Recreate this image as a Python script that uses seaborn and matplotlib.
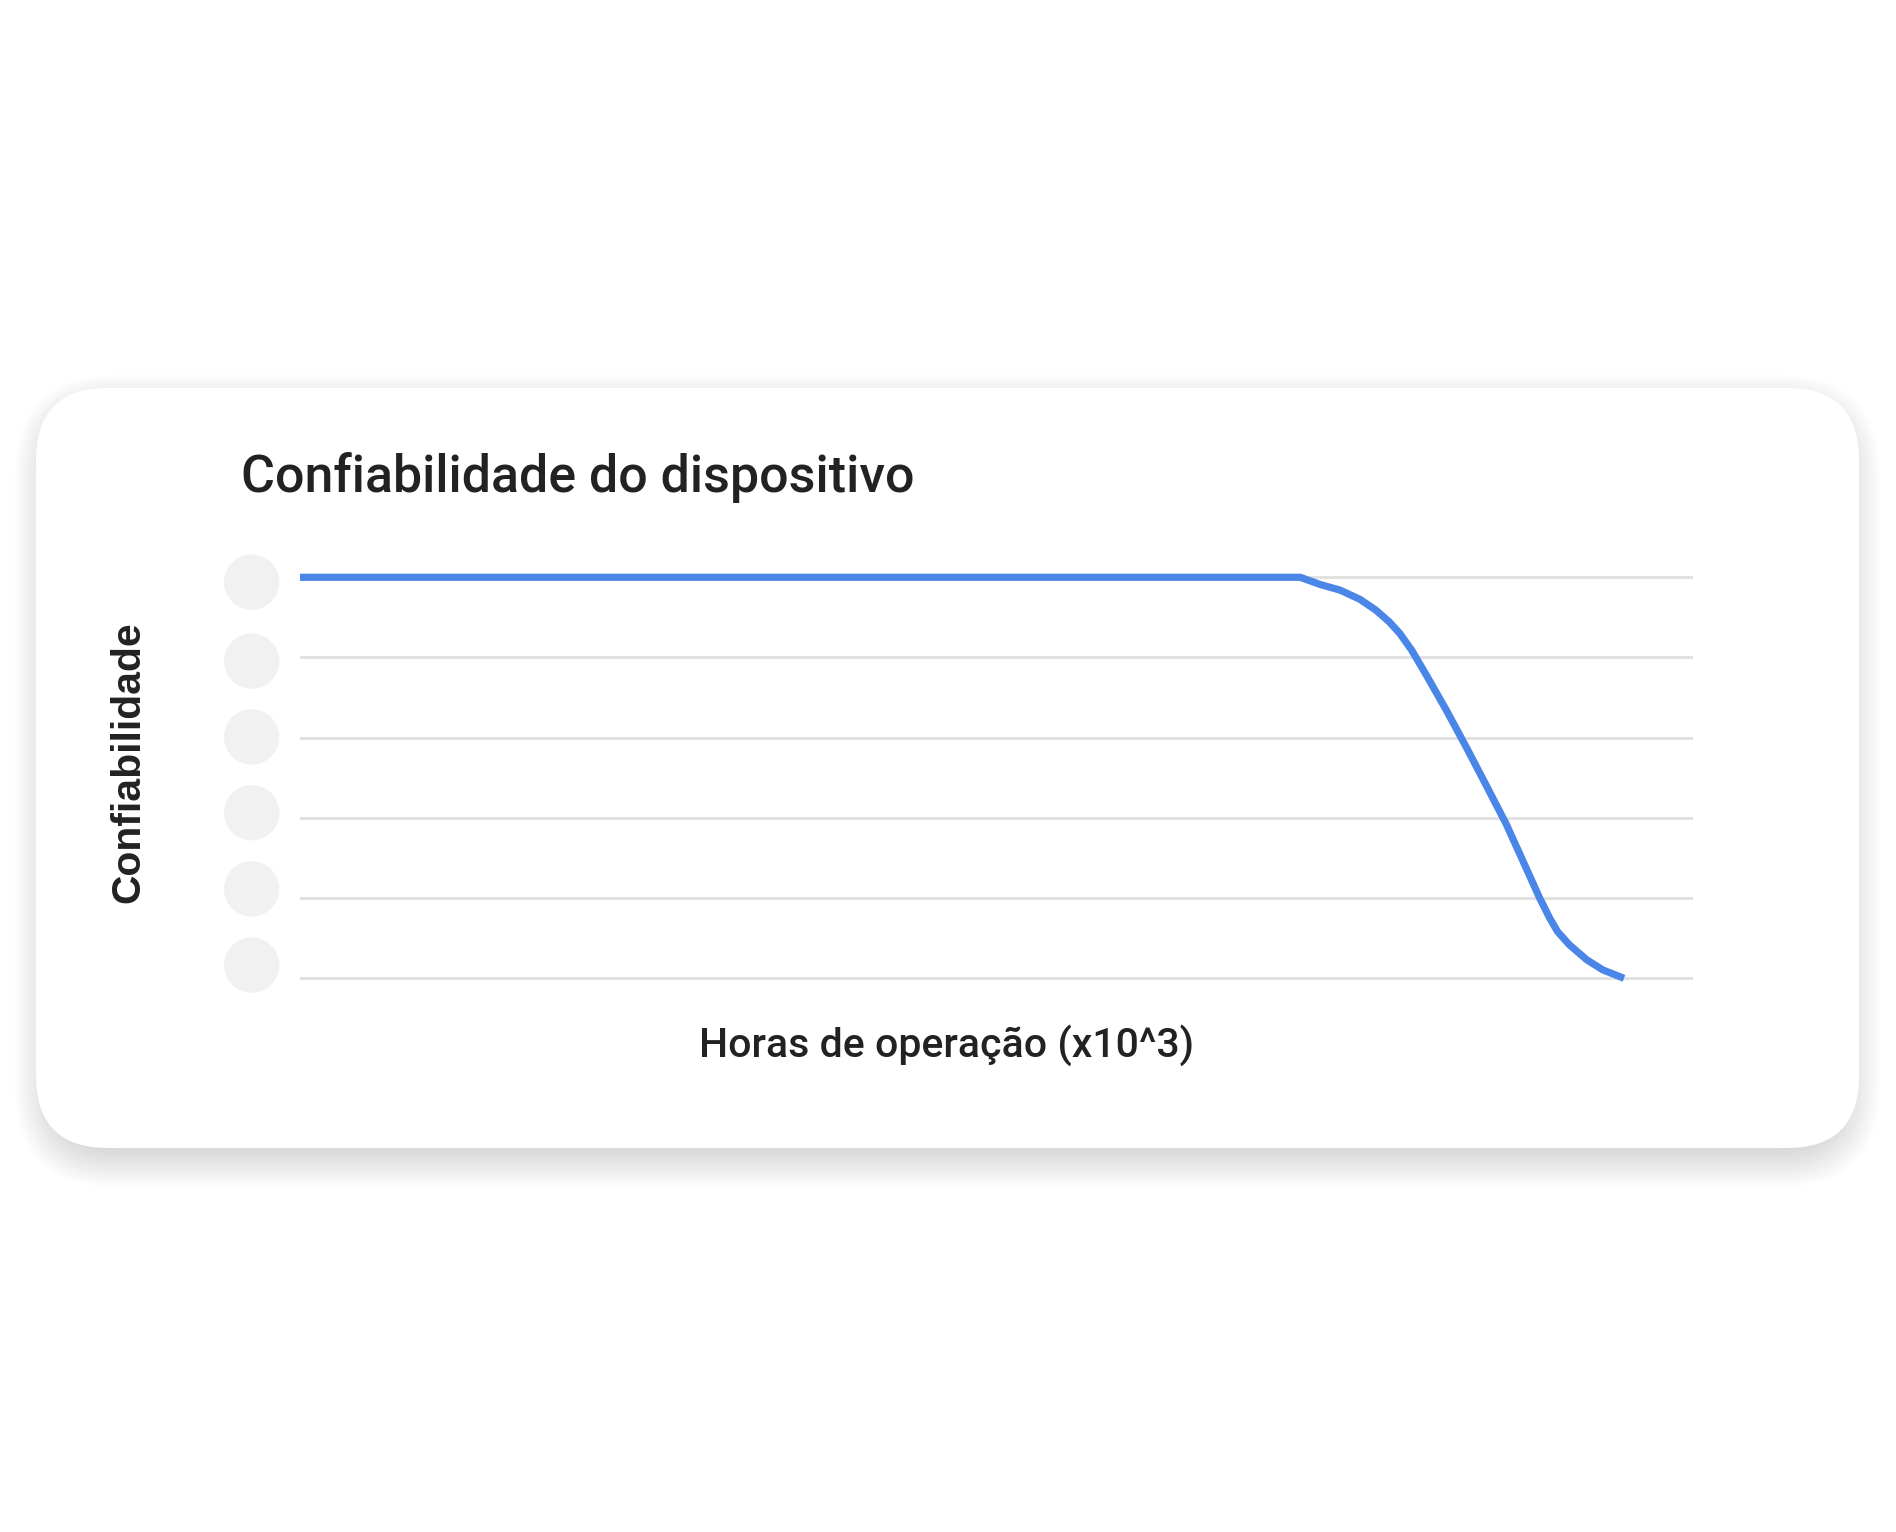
import numpy as np
import pandas as pd
import matplotlib
matplotlib.use("Agg")
import matplotlib.pyplot as plt
import matplotlib.transforms as mtransforms
from matplotlib.patches import FancyBboxPatch
import seaborn as sns

# --- Data ---
hours = [0.0, 7.54, 7.69, 7.84, 7.99, 8.11, 8.21, 8.29, 8.38, 8.49, 8.64, 8.79,
         8.94, 9.09, 9.26, 9.34, 9.42, 9.48, 9.57, 9.70, 9.82, 9.98]
reliability = [1.0, 1.0, 0.982, 0.968, 0.945, 0.918, 0.889, 0.860, 0.818, 0.756, 0.669, 0.577,
               0.482, 0.386, 0.262, 0.203, 0.150, 0.116, 0.083, 0.046, 0.021, 0.0]
grid_levels = [0.0, 0.2, 0.4, 0.6, 0.8, 1.0]
tick_placeholder_y = [0.033, 0.223, 0.413, 0.602, 0.791, 0.988]

title = "Confiabilidade do dispositivo"
xlabel = "Horas de operação (x10^3)"
ylabel = "Confiabilidade"

# --- Layout (pixels) ---
W, H = 1896, 1532
DPI = 100
CARD = (36, 388, 1859, 1148)  # left, top, right, bottom
RADIUS = 72
LINE_COLOR = "#4a86e8"
GRID_COLOR = "#e2e2e2"
TEXT_COLOR = "#222222"

sns.set_theme(style="white")
plt.rcParams["font.family"] = ["Roboto", "DejaVu Sans"]

fig = plt.figure(figsize=(W / DPI, H / DPI), dpi=DPI)
fig.patch.set_facecolor("white")

# background axes in pixel coordinates for the card
bg = fig.add_axes([0, 0, 1, 1])
bg.set_xlim(0, W)
bg.set_ylim(H, 0)
bg.axis("off")

l, t, r, b = CARD
# soft shadow: strongest below, faint on the sides and top
for i in range(14):
    g = 3 * i
    sx, st = g - 18, g - 26
    shadow = FancyBboxPatch((l - sx, t - st), (r - l) + 2 * sx, (b - t) + st + g,
                            boxstyle=f"round,pad=0,rounding_size={RADIUS + max(g - 10, 0)}",
                            facecolor="black", edgecolor="none", alpha=0.011, zorder=1)
    bg.add_patch(shadow)
card = FancyBboxPatch((l, t), r - l, b - t,
                      boxstyle=f"round,pad=0,rounding_size={RADIUS}",
                      facecolor="white", edgecolor="none", zorder=2)
bg.add_patch(card)

# --- Main plot ---
ax_left, ax_right = 300, 1693
y0_px, y1_px = 978.3, 577.3
per_unit = y0_px - y1_px
ylim = (-0.1, 1.1)
ax_bottom_px = y0_px - ylim[0] * per_unit
ax_top_px = y1_px - (ylim[1] - 1.0) * per_unit
ax = fig.add_axes([ax_left / W, 1 - ax_bottom_px / H,
                   (ax_right - ax_left) / W, (ax_bottom_px - ax_top_px) / H])
ax.set_facecolor("none")

df = pd.DataFrame({"hours": hours, "reliability": reliability})
sns.lineplot(data=df, x="hours", y="reliability", ax=ax, color=LINE_COLOR,
             linewidth=5.2, solid_capstyle="butt", solid_joinstyle="round",
             zorder=3, clip_on=False)

ax.set_xlim(0, 10.5)
ax.set_ylim(*ylim)
ax.set_yticks(grid_levels)
ax.set_xticks([])
ax.yaxis.grid(True, color=GRID_COLOR, linewidth=2.2)
ax.xaxis.grid(False)
ax.tick_params(left=False, bottom=False, labelleft=False, labelbottom=False)
for s in ax.spines.values():
    s.set_visible(False)
ax.set_xlabel("")
ax.set_ylabel("")

# placeholder discs where tick labels would be
trans = mtransforms.blended_transform_factory(ax.transAxes, ax.transData)
ax.scatter([-0.0347] * len(tick_placeholder_y), tick_placeholder_y, s=1590,
           color="#f1f1f1", edgecolor="none", transform=trans, clip_on=False, zorder=2)

# --- Text ---
fig.text(241 / W, 1 - 492 / H, title, ha="left", va="baseline", fontsize=37.4,
         fontweight="medium", color=TEXT_COLOR, family=["Roboto", "DejaVu Sans"])
fig.text(947 / W, 1 - 1056.7 / H, xlabel, ha="center", va="baseline", fontsize=29.5,
         fontweight="medium", color=TEXT_COLOR, family=["Roboto", "DejaVu Sans"])
fig.text(139 / W, 1 - 762 / H, ylabel, ha="center", va="baseline", rotation=90,
         rotation_mode="anchor", fontsize=29.4, fontweight="bold", color=TEXT_COLOR,
         family=["Liberation Sans", "DejaVu Sans"])

fig.savefig("out.png", dpi=DPI, facecolor="white")
